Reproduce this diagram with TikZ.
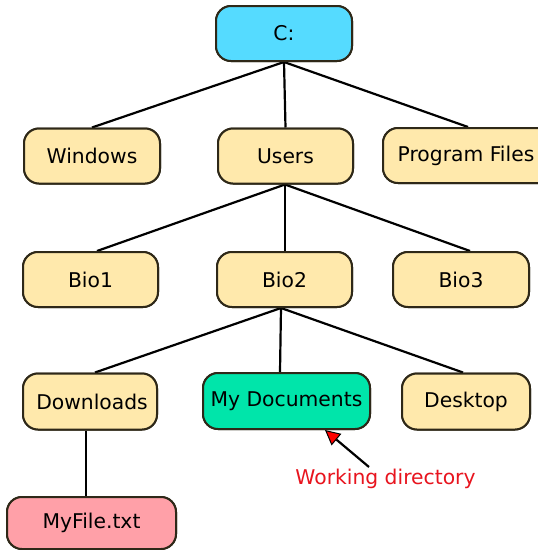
\documentclass[tikz,border=0pt]{standalone}
\usepackage{fontspec}
\setmainfont{DejaVu Sans}
\usetikzlibrary{arrows.meta,calc}
\definecolor{bordc}{HTML}{2E2818}
\definecolor{yel}{HTML}{FFE9AC}
\definecolor{cyn}{HTML}{55DBFF}
\definecolor{grn}{HTML}{00E5AA}
\definecolor{pnk}{HTML}{FFA0A8}
\definecolor{wred}{HTML}{E8141E}
\begin{document}
\begin{tikzpicture}[x=1pt,y=-1pt,
  box/.style={draw=bordc,line width=2pt,rounded corners=15pt,fill=yel,
    minimum width=136pt,minimum height=55pt,inner sep=0pt,
    font=\fontsize{20.3}{24}\selectfont,text=black},
  edge/.style={line width=2.2pt,black}]
\clip (0,0) rectangle (538,550);
\fill[white] (0,0) rectangle (538,550);
% nodes
\node[box,fill=cyn] (c) at (284,33.5) {C:};
\node[box] (win) at (92,156) {Windows};
\node[box,minimum width=135pt] (users) at (285.5,156) {Users};
\node[box,minimum width=170pt] (prog) at (468,155.5) {\hspace*{-4pt}Program Files};
\node[box,minimum width=135pt] (bio1) at (90.5,279.5) {Bio1};
\node[box,minimum width=135pt] (bio2) at (284.5,279.5) {Bio2};
\node[box] (bio3) at (461,279.5) {Bio3};
\node[box,minimum width=134pt,minimum height=56pt] (down) at (90,401.5) {\hspace*{4pt}Downloads};
\node[box,fill=grn,minimum width=167pt,minimum height=56pt] (mydoc) at (286.5,401) {My Documents};
\node[box,minimum width=128pt,minimum height=56pt] (desk) at (466,401.5) {Desktop};
\node[box,fill=pnk,minimum width=169pt,minimum height=52pt] (myfile) at (91.5,523) {MyFile.txt};
\node[font=\fontsize{20.3}{24}\selectfont,text=wred,inner sep=0pt] (wd) at (385.5,479) {Working directory};
\coordinate (arrtail) at (369,467);
% connectors
\draw[edge] (c.south) -- (win.north);
\draw[edge] (c.south) -- (users.north);
\draw[edge] (c.south) -- (prog.north);
\draw[edge] ($(users.south)+(-0.5,0)$) -- ($(bio1.north)+(6.5,0)$);
\draw[edge] ($(users.south)+(-0.5,0)$) -- ($(bio2.north)+(0.5,0)$);
\draw[edge] ($(users.south)+(-0.5,0)$) -- ($(bio3.north)+(9,0)$);
\draw[edge] ($(bio2.south)+(-3.5,0)$) -- ($(down.north)+(5,0)$);
\draw[edge] ($(bio2.south)+(-3.5,0)$) -- ($(mydoc.north)+(-6.5,0)$);
\draw[edge] ($(bio2.south)+(-3.5,0)$) -- ($(desk.north)+(-3,0)$);
\draw[edge] ($(down.south)+(-4,0)$) -- ($(myfile.north)+(-5.5,0)$);
\draw[line width=2.2pt,black,-{Triangle[length=15pt,width=15pt,fill=red,line width=1pt]}] (arrtail) -- ($(mydoc.south)+(38.5,0)$);
% redraw nodes over lines
\node[box,fill=cyn] at (c) {C:};
\node[box] at (win) {Windows};
\node[box,minimum width=135pt] at (users) {Users};
\node[box,minimum width=170pt] at (prog) {\hspace*{-4pt}Program Files};
\node[box,minimum width=135pt] at (bio1) {Bio1};
\node[box,minimum width=135pt] at (bio2) {Bio2};
\node[box] at (bio3) {Bio3};
\node[box,minimum width=134pt,minimum height=56pt] at (down) {\hspace*{4pt}Downloads};
\node[box,fill=grn,minimum width=167pt,minimum height=56pt] at (mydoc) {My Documents};
\node[box,minimum width=128pt,minimum height=56pt] at (desk) {Desktop};
\node[box,fill=pnk,minimum width=169pt,minimum height=52pt] at (myfile) {MyFile.txt};
\end{tikzpicture}
\end{document}
